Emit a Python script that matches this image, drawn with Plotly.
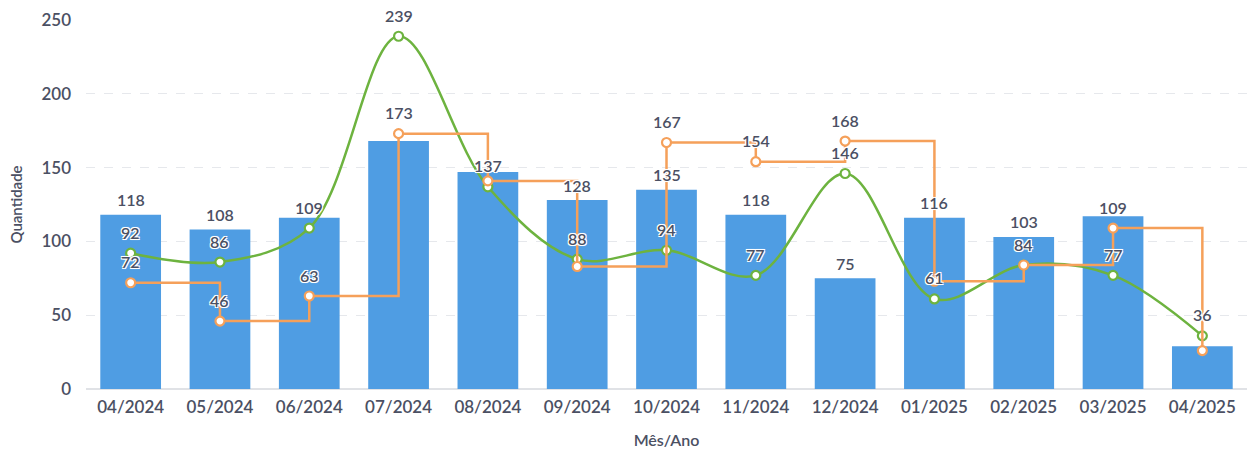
import plotly.graph_objects as go

meses = ["04/2024", "05/2024", "06/2024", "07/2024", "08/2024", "09/2024", "10/2024",
         "11/2024", "12/2024", "01/2025", "02/2025", "03/2025", "04/2025"]
barras = [118, 108, 116, 168, 147, 128, 135, 118, 75, 116, 103, 117, 29]
verde = [92, 86, 109, 239, 137, 88, 94, 77, 146, 61, 84, 77, 36]
laranja = [72, 46, 63, 173, 141, 83, 167, 154, 168, 73, 84, 109, 26]

# which value labels are visible in the reference (others hidden by overlap)
mostra_barras = [1, 1, 0, 0, 0, 1, 1, 1, 1, 1, 1, 0, 0]
mostra_verde = [1, 1, 1, 1, 1, 1, 1, 1, 1, 1, 0, 1, 1]
mostra_laranja = [1, 1, 1, 1, 0, 0, 1, 1, 1, 0, 1, 1, 0]

COR_BARRA = "#4f9de3"
COR_VERDE = "#6db33f"
COR_LARANJA = "#f5a05a"
COR_TEXTO = "#4b5063"
FONTE = "Lato"
PESO = 600
HALO = "-1px -1px 0 #fff, 1px -1px 0 #fff, -1px 1px 0 #fff, 1px 1px 0 #fff, 0 0 2px #fff"

fig = go.Figure()
fig.add_trace(go.Bar(x=meses, y=barras, marker_color=COR_BARRA, marker_line_width=0,
                     hoverinfo="x+y", showlegend=False))
fig.add_trace(go.Scatter(x=meses, y=verde, mode="lines+markers",
                         line=dict(color=COR_VERDE, width=2.5, shape="spline", smoothing=1.0),
                         marker=dict(size=9, color="white", line=dict(color=COR_VERDE, width=2.2)),
                         showlegend=False))
fig.add_trace(go.Scatter(x=meses, y=laranja, mode="lines+markers",
                         line=dict(color=COR_LARANJA, width=2.5, shape="hv"),
                         marker=dict(size=9, color="white", line=dict(color=COR_LARANJA, width=2.2)),
                         showlegend=False))

anns = []
def add_labels(vals, mostra, shift):
    for m, v, s in zip(meses, vals, mostra):
        if s:
            anns.append(dict(x=m, y=v, xref="x", yref="y", text=str(v), showarrow=False,
                             yshift=shift, font=dict(family=FONTE, size=16, color=COR_TEXTO,
                                                     weight=PESO, shadow=HALO)))

add_labels(barras, mostra_barras, 15)
add_labels(verde, mostra_verde, 21)
add_labels(laranja, mostra_laranja, 21)

fig.update_layout(
    width=1250, height=452,
    margin=dict(l=86, r=3, t=20, b=63),
    paper_bgcolor="white", plot_bgcolor="white",
    bargap=0.32,
    font=dict(family=FONTE, size=16, color=COR_TEXTO),
    annotations=anns,
    xaxis=dict(type="category", range=[-0.5, len(meses) - 0.5],
               showgrid=False, zeroline=False, showline=False,
               ticks="", ticklabelstandoff=6, automargin=False,
               tickfont=dict(family=FONTE, size=17, color=COR_TEXTO, weight=PESO),
               title=dict(text="Mês/Ano", font=dict(family=FONTE, size=16, color=COR_TEXTO,
                                                    weight=PESO),
                          standoff=18)),
    yaxis=dict(range=[0, 250], tickvals=[0, 50, 100, 150, 200, 250],
               showgrid=True, gridcolor="#e6e8ec", griddash="dash", gridwidth=1,
               zeroline=True, zerolinecolor="#e0e2e6", zerolinewidth=1.5,
               showline=False, ticks="", ticklabelstandoff=14, automargin=False,
               tickfont=dict(family=FONTE, size=17, color=COR_TEXTO, weight=PESO),
               title=dict(text="Quantidade", font=dict(family=FONTE, size=15, color=COR_TEXTO,
                                                       weight=PESO),
                          standoff=15)),
)

fig.write_html("out.html", config={"displayModeBar": False},
               post_script="document.body.style.margin='0';")
